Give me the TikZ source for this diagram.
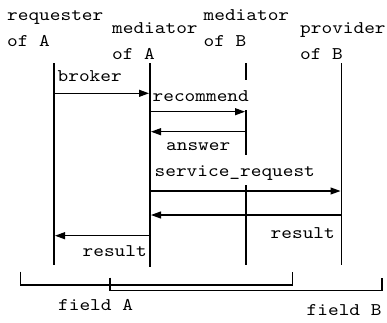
\documentclass[tikz,border=0pt]{standalone}
\usepackage{fontspec}
\setmonofont[FakeStretch=1.143]{lmmono10-regular.otf}
\usetikzlibrary{arrows.meta}
\begin{document}
\begin{tikzpicture}[x=1pt,y=-1pt,
  every node/.style={font=\ttfamily\fontsize{17.8}{26.5}\selectfont, inner sep=0pt},
  lifeline/.style={line width=1.1pt},
  msg/.style={line width=1.1pt, -{Triangle[length=10pt,width=7pt]}, shorten >=1pt},
  msglabel/.style={anchor=base west, fill=white, text height=21pt, text depth=8pt,
                   inner xsep=0.5pt, inner ysep=0.5pt},
  header/.style={anchor=base west},
  bracket/.style={line width=1.1pt}]
\useasboundingbox (0,0) rectangle (387,322);

% participants
\node[header] (hReq) at (7,20)    {\begin{tabular}[t]{@{}l@{}}requester\\of A\end{tabular}};
\node[header] (hMA)  at (112,33)  {\begin{tabular}[t]{@{}l@{}}mediator\\of A\end{tabular}};
\node[header] (hMB)  at (203.5,20){\begin{tabular}[t]{@{}l@{}}mediator\\of B\end{tabular}};
\node[header] (hPB)  at (300,33)  {\begin{tabular}[t]{@{}l@{}}provider\\of B\end{tabular}};

% lifelines
\coordinate (reqT) at (54,63);    \coordinate (reqB) at (54,265);
\coordinate (maT)  at (150,63);   \coordinate (maB)  at (150,267);
\coordinate (mbT)  at (246,63);   \coordinate (mbB)  at (246,265);
\coordinate (pbT)  at (341.5,63); \coordinate (pbB)  at (341.5,265);
\draw[lifeline] (reqT) -- (reqB);
\draw[lifeline] (maT) -- (maB);
\draw[lifeline] (mbT) -- (mbB);
\draw[lifeline] (pbT) -- (pbB);

% message labels (white boxes interrupt the lifelines behind them)
\node[msglabel] (lBroker)  at (57,81.5)    {broker};
\node[msglabel] (lRecomm)  at (152,101.5)  {recommend};
\node[msglabel] (lAnswer)  at (165.5,150.5){answer};
\node[msglabel] (lService) at (154,176.5)  {service\_request};
\node[msglabel] (lResultB) at (270,238.3)  {result};
\node[msglabel] (lResultA) at (82,256.7)   {result};

% message end points on the lifelines
\coordinate (m1s) at (reqT |- 0,93.3);  \coordinate (m1e) at (maT |- 0,93.3);
\coordinate (m2s) at (maT |- 0,111.7);  \coordinate (m2e) at (mbT |- 0,111.7);
\coordinate (m3s) at (mbT |- 0,131.7);  \coordinate (m3e) at (maT |- 0,131.7);
\coordinate (m4s) at (maT |- 0,191);    \coordinate (m4e) at (pbT |- 0,191);
\coordinate (m5s) at (pbT |- 0,215);    \coordinate (m5e) at (maT |- 0,215);
\coordinate (m6s) at (maT |- 0,235.7);  \coordinate (m6e) at (reqT |- 0,235.7);

\draw[msg] (m1s) -- (m1e);
\draw[msg] (m2s) -- (m2e);
\draw[msg] (m3s) -- (m3e);
\draw[msg] (m4s) -- (m4e);
\draw[msg] (m5s) -- (m5e);
\draw[msg] (m6s) -- (m6e);

% fields
\coordinate (fA1) at (20.7,271.7); \coordinate (fA2) at (20.7,285);
\coordinate (fA3) at (292.3,285);  \coordinate (fA4) at (292.3,271.7);
\coordinate (fB1) at (110,277.7);  \coordinate (fB2) at (110,290.7);
\coordinate (fB3) at (382,290.7);  \coordinate (fB4) at (382,277.7);
\draw[bracket] (fA1) -- (fA2) -- (fA3) -- (fA4);
\draw[bracket] (fB1) -- (fB2) -- (fB3) -- (fB4);
\node[header] (lFieldA) at (58,310.7) {field A};
\node[header] (lFieldB) at (306.5,315) {field B};
\end{tikzpicture}
\end{document}
